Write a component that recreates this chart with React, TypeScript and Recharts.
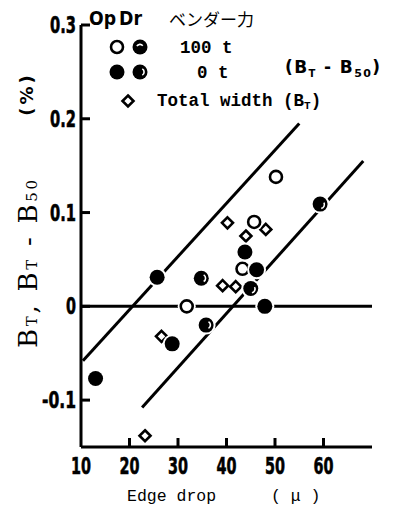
import { ScatterChart, Scatter, XAxis, YAxis } from "recharts";

// Edge drop (μ) vs BT / BT-B50 (%)
const xTicks = [10, 20, 30, 40, 50, 60];
const yTicks = [-0.1, 0, 0.1, 0.2, 0.3];

// Op, 0 t (solid)
const opZero = [
  { x: 25.7, y: 0.031 },
  { x: 43.8, y: 0.058 },
  { x: 46.2, y: 0.039 },
  { x: 47.9, y: 0.0 },
  { x: 28.8, y: -0.04 },
  { x: 13.0, y: -0.077 },
];
// Op, 100 t (open)
const opHundred = [
  { x: 50.2, y: 0.138 },
  { x: 45.7, y: 0.09 },
  { x: 43.3, y: 0.04 },
  { x: 31.8, y: 0.0 },
];
// Dr, 100 t
const drHundred = [
  { x: 59.3, y: 0.109 },
  { x: 45.0, y: 0.019 },
];
// Dr, 0 t
const drZero = [
  { x: 35.8, y: -0.02 },
  { x: 34.8, y: 0.03 },
];
// Total width (BT)
const totalWidth = [
  { x: 40.2, y: 0.089 },
  { x: 48.1, y: 0.082 },
  { x: 44.0, y: 0.075 },
  { x: 39.2, y: 0.022 },
  { x: 41.9, y: 0.021 },
  { x: 26.6, y: -0.032 },
  { x: 23.2, y: -0.138 },
];

// band lines
const upperLine = [
  { x: 10.4, y: -0.058 },
  { x: 55.0, y: 0.195 },
];
const lowerLine = [
  { x: 22.6, y: -0.108 },
  { x: 68.2, y: 0.155 },
];
const zeroLine = [
  { x: 10, y: 0 },
  { x: 70.2, y: 0 },
];

const tickFont = "'DejaVu Sans', 'Liberation Sans', sans-serif";
const mono = "'Liberation Mono', 'DejaVu Sans Mono', monospace";

const fmtY = (v: number) => (v === 0 ? "0" : v < 0 ? `-${Math.abs(v).toFixed(1)}` : v.toFixed(1));

// squeeze the bold digits so they look condensed like the scan
const labelWidth = (s: string) =>
  s.split("").reduce((w, c) => w + (c === "." ? 6 : c === "-" ? 8 : 10), 0);

const XTick = (props: any) => {
  const { x, y, payload } = props;
  const s = String(payload.value);
  return (
    <g>
      {payload.value !== 10 && <line x1={x} y1={y} x2={x} y2={y - 9} stroke="#000" strokeWidth={3} />}
      <text
        x={x - labelWidth(s) / 2}
        y={y + 27}
        textLength={labelWidth(s)}
        lengthAdjust="spacingAndGlyphs"
        fontFamily={tickFont}
        fontWeight="bold"
        fontSize={23}
        stroke="#000"
        strokeWidth={0.6}
        fill="#000"
      >
        {s}
      </text>
    </g>
  );
};

const YTick = (props: any) => {
  const { x, y, payload } = props;
  const s = fmtY(payload.value);
  const w = labelWidth(s);
  return (
    <g>
      <line x1={x} y1={y} x2={x + 9} y2={y} stroke="#000" strokeWidth={3} />
      <text
        x={x - 5 - w}
        y={y + 8}
        textLength={w}
        lengthAdjust="spacingAndGlyphs"
        fontFamily={tickFont}
        fontWeight="bold"
        fontSize={23}
        stroke="#000"
        strokeWidth={0.6}
        fill="#000"
      >
        {s}
      </text>
    </g>
  );
};

const Nothing = () => <g />;

const OpenDot = (p: any) => (
  <g>
    <circle cx={p.cx} cy={p.cy} r={9} fill="#fff" />
    <circle cx={p.cx} cy={p.cy} r={6} fill="#fff" stroke="#000" strokeWidth={2.6} />
  </g>
);

const SolidDot = (p: any) => (
  <g>
    <circle cx={p.cx} cy={p.cy} r={9.5} fill="#fff" />
    <circle cx={p.cx} cy={p.cy} r={7.5} fill="#000" />
  </g>
);

const arc = (cx: number, cy: number, r: number, a0: number, a1: number) => {
  const rad = Math.PI / 180;
  const x0 = cx + r * Math.cos(a0 * rad);
  const y0 = cy + r * Math.sin(a0 * rad);
  const x1 = cx + r * Math.cos(a1 * rad);
  const y1 = cy + r * Math.sin(a1 * rad);
  return `M${x0},${y0} A${r},${r} 0 0 1 ${x1},${y1}`;
};

const DrHundredDot = (p: any) => (
  <g>
    <circle cx={p.cx} cy={p.cy} r={9.5} fill="#fff" />
    <circle cx={p.cx} cy={p.cy} r={7.5} fill="#000" />
    <path d={arc(p.cx + 0.5, p.cy + 0.5, 3.8, -30, 80)} stroke="#fff" strokeWidth={1.6} fill="none" />
  </g>
);

const DrZeroDot = (p: any) => (
  <g>
    <circle cx={p.cx} cy={p.cy} r={9.5} fill="#fff" />
    <circle cx={p.cx} cy={p.cy} r={7.5} fill="#000" />
    <path d={arc(p.cx + 0.5, p.cy, 3.8, -60, 60)} stroke="#fff" strokeWidth={1.6} fill="none" />
  </g>
);

const Diamond = (p: any) => {
  const s = 5.5;
  return (
    <path
      d={`M${p.cx},${p.cy - s} L${p.cx + s},${p.cy} L${p.cx},${p.cy + s} L${p.cx - s},${p.cy} Z`}
      fill="#fff"
      stroke="#000"
      strokeWidth={2.6}
      strokeLinejoin="miter"
    />
  );
};

function Overlay() {
  const legendSans = "'DejaVu Sans', 'Noto Sans', sans-serif";
  const serif = "'DejaVu Serif', 'Liberation Serif', serif";
  return (
    <svg width={396} height={506} style={{ position: "absolute", left: 0, top: 0, pointerEvents: "none" }}>
      {/* y axis title, reads bottom to top */}
      <text
        transform="rotate(-90, 37, 264)"
        x={37 - 84}
        y={264}
        textLength={168}
        lengthAdjust="spacing"
        fontFamily={serif}
        fontSize={26}
        fill="#000"
      >
        B<tspan fontSize={15}>T</tspan>,<tspan> B</tspan>
        <tspan fontSize={15}>T</tspan>
        <tspan> - B</tspan>
        <tspan fontSize={15}>50</tspan>
      </text>
      <text
        transform="rotate(-90, 26, 94)"
        x={26}
        y={94}
        textAnchor="middle"
        dominantBaseline="central"
        fontFamily={legendSans}
        fontWeight="bold"
        fontSize={18}
        letterSpacing={3}
        fill="#000"
      >
        (%)
      </text>

      {/* legend header */}
      <text x={89} y={25} textLength={27} lengthAdjust="spacingAndGlyphs" fontFamily={legendSans} fontWeight="bold" fontSize={19} fill="#000">
        Op
      </text>
      <text x={119} y={25} textLength={23} lengthAdjust="spacingAndGlyphs" fontFamily={legendSans} fontWeight="bold" fontSize={19} fill="#000">
        Dr
      </text>
      <text x={169} y={26} fontFamily="'Noto Sans CJK JP', sans-serif" fontSize={17} fill="#000">
        ベンダー力
      </text>

      <circle cx={117} cy={47} r={6} fill="#fff" stroke="#000" strokeWidth={2.6} />
      <circle cx={140} cy={47} r={7.5} fill="#000" />
      <path d={arc(140, 48, 3.6, -150, -40)} stroke="#fff" strokeWidth={1.6} fill="none" />
      <text x={180} y={53} fontFamily={mono} fontWeight="bold" fontSize={17.5} fill="#000">
        100 t
      </text>

      <circle cx={117} cy={72} r={7.5} fill="#000" />
      <circle cx={140} cy={72} r={7.5} fill="#000" />
      <path d={arc(140.5, 72, 3.6, -60, 60)} stroke="#fff" strokeWidth={1.6} fill="none" />
      <text x={197} y={78} fontFamily={mono} fontWeight="bold" fontSize={17.5} fill="#000">
        0 t
      </text>

      <text x={285} y={73} textLength={95} lengthAdjust="spacing" fontFamily={legendSans} fontWeight="bold" fontSize={17} fill="#000">
        (B<tspan fontSize={10} dy={4}>T</tspan>
        <tspan dy={-4}> - B</tspan>
        <tspan fontSize={11} dy={4}>50</tspan>
        <tspan dy={-4}>)</tspan>
      </text>

      <path d="M128,95.5 L133.5,101 L128,106.5 L122.5,101 Z" fill="#fff" stroke="#000" strokeWidth={2.6} />
      <text x={157} y={106} fontFamily={mono} fontWeight="bold" fontSize={17.5} fill="#000">
        Total width (B<tspan fontSize={11} dy={3}>T</tspan>
        <tspan dy={-3}>)</tspan>
      </text>

      {/* x axis title */}
      <text x={127} y={501} fontFamily={mono} fontSize={16.5} fill="#000">
        Edge drop
      </text>
      <text x={271} y={501} fontFamily={mono} fontSize={16.5} fill="#000">
        ( μ )
      </text>
    </svg>
  );
}

export default function App() {
  return (
    <div style={{ position: "absolute", left: 0, top: 0, width: 396, height: 506, background: "#fff" }}>
      <ScatterChart width={396} height={506} margin={{ top: 25, right: 24, bottom: 29, left: 36 }}>
        <XAxis
          type="number"
          dataKey="x"
          domain={[10, 70]}
          ticks={xTicks}
          allowDataOverflow
          height={30}
          axisLine={{ stroke: "#000", strokeWidth: 3 }}
          tickLine={false}
          tickSize={0}
          tickMargin={0}
          tick={<XTick />}
          interval={0}
        />
        <YAxis
          type="number"
          dataKey="y"
          domain={[-0.15, 0.3]}
          ticks={yTicks}
          allowDataOverflow
          width={45}
          axisLine={{ stroke: "#000", strokeWidth: 3 }}
          tickLine={false}
          tickSize={0}
          tickMargin={0}
          tick={<YTick />}
          interval={0}
        />
        <Scatter data={zeroLine} line={{ stroke: "#000", strokeWidth: 3 }} shape={<Nothing />} isAnimationActive={false} />
        <Scatter data={upperLine} line={{ stroke: "#000", strokeWidth: 3 }} shape={<Nothing />} isAnimationActive={false} />
        <Scatter data={lowerLine} line={{ stroke: "#000", strokeWidth: 3 }} shape={<Nothing />} isAnimationActive={false} />
        <Scatter data={totalWidth} shape={<Diamond />} isAnimationActive={false} />
        <Scatter data={opHundred} shape={<OpenDot />} isAnimationActive={false} />
        <Scatter data={opZero} shape={<SolidDot />} isAnimationActive={false} />
        <Scatter data={drHundred} shape={<DrHundredDot />} isAnimationActive={false} />
        <Scatter data={drZero} shape={<DrZeroDot />} isAnimationActive={false} />
      </ScatterChart>
      <Overlay />
    </div>
  );
}
